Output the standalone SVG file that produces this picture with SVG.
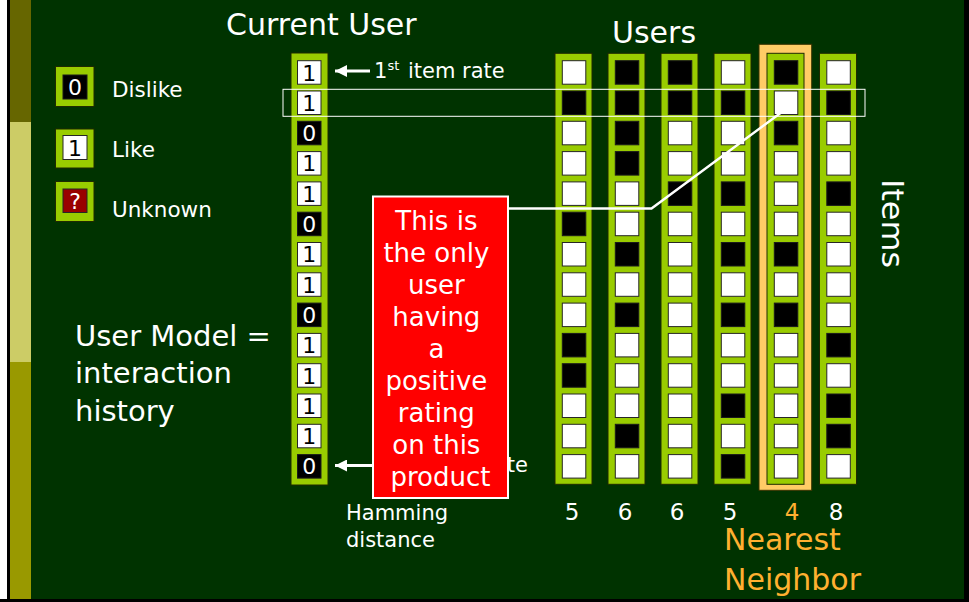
<svg xmlns="http://www.w3.org/2000/svg" width="969" height="602" viewBox="0 0 969 602">
<style>
.hand{font-family:"DejaVu Sans","Liberation Sans",sans-serif;fill:#ffffff}
.col{fill:#99CC00;stroke:#1f2a00;stroke-width:1}
.w{fill:#ffffff;stroke:#262626;stroke-width:1}
.b{fill:#000000;stroke:#1a1a1a;stroke-width:1}
.dig{font-family:"DejaVu Sans","Liberation Sans",sans-serif;font-size:22px;text-anchor:middle}
.dk{fill:#000000}
.lt{fill:#ffffff}
.cline{stroke:#ffffff;fill:none}
.callout{font-family:"DejaVu Sans","Liberation Sans",sans-serif;font-size:26px;fill:#ffffff;text-anchor:middle}
.num{font-family:"DejaVu Sans","Liberation Sans",sans-serif;font-size:23px;text-anchor:middle}
.orange{fill:#FFB030}
</style>
<defs>
<marker id="ah" markerUnits="userSpaceOnUse" markerWidth="14" markerHeight="12" refX="12" refY="6" orient="auto">
<path d="M0,0 L12,6 L0,12 z" fill="#ffffff"/>
</marker>
</defs>

<!-- background & frame -->
<rect x="0" y="0" width="969" height="602" fill="#003300"/>
<rect x="0" y="0" width="7" height="602" fill="#ffffff"/>
<rect x="7" y="0" width="3" height="602" fill="#000000"/>
<rect x="10" y="0" width="21" height="122" fill="#666600"/>
<rect x="10" y="122" width="21" height="240" fill="#CCCC66"/>
<rect x="10" y="362" width="21" height="240" fill="#999900"/>
<rect x="964" y="0" width="5" height="602" fill="#000000"/>
<rect x="0" y="599" width="969" height="3" fill="#000000"/>

<!-- titles -->
<g id="titles">
<text class="hand" x="226" y="35" font-size="30">Current User</text>
<text class="hand" x="612" y="42.5" font-size="30">Users</text>
<text class="hand" transform="translate(882,179) rotate(90)" font-size="31" textLength="89" lengthAdjust="spacingAndGlyphs">Items</text>
<text class="hand" font-size="29"><tspan x="75" y="346">User Model =</tspan><tspan x="75" y="383">interaction</tspan><tspan x="75" y="421">history</tspan></text>
<text class="hand" font-size="21"><tspan x="346" y="520">Hamming</tspan><tspan x="346" y="547">distance</tspan></text>
</g>

<!-- legend -->
<g id="legend-dislike">
<rect class="col" x="55.5" y="66.5" width="38.5" height="40"/>
<rect class="b" x="63" y="75" width="24" height="24"/>
<text class="dig lt" x="75" y="95">0</text>
<text class="hand" x="112" y="96.5" font-size="21.5">Dislike</text>
</g>
<g id="legend-like">
<rect class="col" x="55.5" y="129" width="38.5" height="39"/>
<rect class="w" x="63" y="135.5" width="24" height="24"/>
<text class="dig dk" x="75" y="155.5">1</text>
<text class="hand" x="112" y="156.5" font-size="21.5">Like</text>
</g>
<g id="legend-unknown">
<rect class="col" x="55.5" y="181.5" width="38.5" height="40"/>
<rect x="63" y="189" width="24" height="23.5" fill="#990000" stroke="#262626" stroke-width="1"/>
<text class="dig lt" x="75" y="208.5" font-size="20">?</text>
<text class="hand" x="112" y="216.5" font-size="21.5">Unknown</text>
</g>

<!-- current user -->
<g id="current-user">
<rect class="col" x="291" y="53" width="37" height="432"/>
<rect class="w" x="297.5" y="60.7" width="23.5" height="23.5"/><text class="dig dk" x="309.2" y="80.5">1</text>
<rect class="w" x="297.5" y="91" width="23.5" height="23.5"/><text class="dig dk" x="309.2" y="110.8">1</text>
<rect class="b" x="297.5" y="121.3" width="23.5" height="23.5"/><text class="dig lt" x="309.2" y="141.1">0</text>
<rect class="w" x="297.5" y="151.6" width="23.5" height="23.5"/><text class="dig dk" x="309.2" y="171.4">1</text>
<rect class="w" x="297.5" y="181.9" width="23.5" height="23.5"/><text class="dig dk" x="309.2" y="201.7">1</text>
<rect class="b" x="297.5" y="212.2" width="23.5" height="23.5"/><text class="dig lt" x="309.2" y="232">0</text>
<rect class="w" x="297.5" y="242.5" width="23.5" height="23.5"/><text class="dig dk" x="309.2" y="262.3">1</text>
<rect class="w" x="297.5" y="272.8" width="23.5" height="23.5"/><text class="dig dk" x="309.2" y="292.6">1</text>
<rect class="b" x="297.5" y="303.1" width="23.5" height="23.5"/><text class="dig lt" x="309.2" y="322.9">0</text>
<rect class="w" x="297.5" y="333.4" width="23.5" height="23.5"/><text class="dig dk" x="309.2" y="353.2">1</text>
<rect class="w" x="297.5" y="363.7" width="23.5" height="23.5"/><text class="dig dk" x="309.2" y="383.5">1</text>
<rect class="w" x="297.5" y="394" width="23.5" height="23.5"/><text class="dig dk" x="309.2" y="413.8">1</text>
<rect class="w" x="297.5" y="424.3" width="23.5" height="23.5"/><text class="dig dk" x="309.2" y="444.1">1</text>
<rect class="b" x="297.5" y="454.6" width="23.5" height="23.5"/><text class="dig lt" x="309.2" y="474.4">0</text>
<text class="hand" x="374" y="78" font-size="21">1<tspan font-size="13" dy="-8">st</tspan><tspan x="408" dy="8">item rate</tspan></text>
</g>

<!-- users -->
<g id="user1">
<rect class="col" x="555" y="53.3" width="37" height="431"/>
<rect class="w" x="562.3" y="60.7" width="23.5" height="23.5"/>
<rect class="b" x="562.3" y="91" width="23.5" height="23.5"/>
<rect class="w" x="562.3" y="121.3" width="23.5" height="23.5"/>
<rect class="w" x="562.3" y="151.6" width="23.5" height="23.5"/>
<rect class="w" x="562.3" y="181.9" width="23.5" height="23.5"/>
<rect class="b" x="562.3" y="212.2" width="23.5" height="23.5"/>
<rect class="w" x="562.3" y="242.5" width="23.5" height="23.5"/>
<rect class="w" x="562.3" y="272.8" width="23.5" height="23.5"/>
<rect class="w" x="562.3" y="303.1" width="23.5" height="23.5"/>
<rect class="b" x="562.3" y="333.4" width="23.5" height="23.5"/>
<rect class="b" x="562.3" y="363.7" width="23.5" height="23.5"/>
<rect class="w" x="562.3" y="394" width="23.5" height="23.5"/>
<rect class="w" x="562.3" y="424.3" width="23.5" height="23.5"/>
<rect class="w" x="562.3" y="454.6" width="23.5" height="23.5"/>
<text class="num lt" x="572" y="519.5">5</text>
</g>
<g id="user2">
<rect class="col" x="608" y="53.3" width="37" height="431"/>
<rect class="b" x="615.3" y="60.7" width="23.5" height="23.5"/>
<rect class="b" x="615.3" y="91" width="23.5" height="23.5"/>
<rect class="b" x="615.3" y="121.3" width="23.5" height="23.5"/>
<rect class="b" x="615.3" y="151.6" width="23.5" height="23.5"/>
<rect class="w" x="615.3" y="181.9" width="23.5" height="23.5"/>
<rect class="w" x="615.3" y="212.2" width="23.5" height="23.5"/>
<rect class="b" x="615.3" y="242.5" width="23.5" height="23.5"/>
<rect class="w" x="615.3" y="272.8" width="23.5" height="23.5"/>
<rect class="b" x="615.3" y="303.1" width="23.5" height="23.5"/>
<rect class="w" x="615.3" y="333.4" width="23.5" height="23.5"/>
<rect class="w" x="615.3" y="363.7" width="23.5" height="23.5"/>
<rect class="w" x="615.3" y="394" width="23.5" height="23.5"/>
<rect class="b" x="615.3" y="424.3" width="23.5" height="23.5"/>
<rect class="w" x="615.3" y="454.6" width="23.5" height="23.5"/>
<text class="num lt" x="625" y="519.5">6</text>
</g>
<g id="user3">
<rect class="col" x="661" y="53.3" width="37" height="431"/>
<rect class="b" x="668.3" y="60.7" width="23.5" height="23.5"/>
<rect class="b" x="668.3" y="91" width="23.5" height="23.5"/>
<rect class="w" x="668.3" y="121.3" width="23.5" height="23.5"/>
<rect class="w" x="668.3" y="151.6" width="23.5" height="23.5"/>
<rect class="b" x="668.3" y="181.9" width="23.5" height="23.5"/>
<rect class="w" x="668.3" y="212.2" width="23.5" height="23.5"/>
<rect class="w" x="668.3" y="242.5" width="23.5" height="23.5"/>
<rect class="w" x="668.3" y="272.8" width="23.5" height="23.5"/>
<rect class="w" x="668.3" y="303.1" width="23.5" height="23.5"/>
<rect class="w" x="668.3" y="333.4" width="23.5" height="23.5"/>
<rect class="w" x="668.3" y="363.7" width="23.5" height="23.5"/>
<rect class="w" x="668.3" y="394" width="23.5" height="23.5"/>
<rect class="w" x="668.3" y="424.3" width="23.5" height="23.5"/>
<rect class="w" x="668.3" y="454.6" width="23.5" height="23.5"/>
<text class="num lt" x="677" y="519.5">6</text>
</g>
<g id="user4">
<rect class="col" x="714" y="53.3" width="37" height="431"/>
<rect class="w" x="721.3" y="60.7" width="23.5" height="23.5"/>
<rect class="b" x="721.3" y="91" width="23.5" height="23.5"/>
<rect class="w" x="721.3" y="121.3" width="23.5" height="23.5"/>
<rect class="w" x="721.3" y="151.6" width="23.5" height="23.5"/>
<rect class="b" x="721.3" y="181.9" width="23.5" height="23.5"/>
<rect class="w" x="721.3" y="212.2" width="23.5" height="23.5"/>
<rect class="b" x="721.3" y="242.5" width="23.5" height="23.5"/>
<rect class="w" x="721.3" y="272.8" width="23.5" height="23.5"/>
<rect class="b" x="721.3" y="303.1" width="23.5" height="23.5"/>
<rect class="w" x="721.3" y="333.4" width="23.5" height="23.5"/>
<rect class="w" x="721.3" y="363.7" width="23.5" height="23.5"/>
<rect class="b" x="721.3" y="394" width="23.5" height="23.5"/>
<rect class="w" x="721.3" y="424.3" width="23.5" height="23.5"/>
<rect class="b" x="721.3" y="454.6" width="23.5" height="23.5"/>
<text class="num lt" x="730" y="519.5">5</text>
</g>
<g id="user5">
<rect x="759" y="44.3" width="52.7" height="446" fill="#FFCC66" stroke="#3a3300" stroke-width="1"/>
<rect class="col" x="767" y="53.3" width="37" height="431"/>
<rect class="b" x="774.3" y="60.7" width="23.5" height="23.5"/>
<rect class="w" x="774.3" y="91" width="23.5" height="23.5"/>
<rect class="b" x="774.3" y="121.3" width="23.5" height="23.5"/>
<rect class="w" x="774.3" y="151.6" width="23.5" height="23.5"/>
<rect class="w" x="774.3" y="181.9" width="23.5" height="23.5"/>
<rect class="w" x="774.3" y="212.2" width="23.5" height="23.5"/>
<rect class="b" x="774.3" y="242.5" width="23.5" height="23.5"/>
<rect class="w" x="774.3" y="272.8" width="23.5" height="23.5"/>
<rect class="b" x="774.3" y="303.1" width="23.5" height="23.5"/>
<rect class="w" x="774.3" y="333.4" width="23.5" height="23.5"/>
<rect class="w" x="774.3" y="363.7" width="23.5" height="23.5"/>
<rect class="w" x="774.3" y="394" width="23.5" height="23.5"/>
<rect class="w" x="774.3" y="424.3" width="23.5" height="23.5"/>
<rect class="w" x="774.3" y="454.6" width="23.5" height="23.5"/>
<text class="num orange" x="792" y="519.5">4</text>
<text class="hand orange" font-size="30"><tspan x="724" y="550">Nearest</tspan><tspan x="724" y="590">Neighbor</tspan></text>
</g>
<g id="user6">
<rect class="col" x="819.5" y="53.3" width="37" height="431"/>
<rect class="w" x="826.8" y="60.7" width="23.5" height="23.5"/>
<rect class="b" x="826.8" y="91" width="23.5" height="23.5"/>
<rect class="w" x="826.8" y="121.3" width="23.5" height="23.5"/>
<rect class="w" x="826.8" y="151.6" width="23.5" height="23.5"/>
<rect class="b" x="826.8" y="181.9" width="23.5" height="23.5"/>
<rect class="w" x="826.8" y="212.2" width="23.5" height="23.5"/>
<rect class="w" x="826.8" y="242.5" width="23.5" height="23.5"/>
<rect class="w" x="826.8" y="272.8" width="23.5" height="23.5"/>
<rect class="w" x="826.8" y="303.1" width="23.5" height="23.5"/>
<rect class="b" x="826.8" y="333.4" width="23.5" height="23.5"/>
<rect class="w" x="826.8" y="363.7" width="23.5" height="23.5"/>
<rect class="b" x="826.8" y="394" width="23.5" height="23.5"/>
<rect class="b" x="826.8" y="424.3" width="23.5" height="23.5"/>
<rect class="w" x="826.8" y="454.6" width="23.5" height="23.5"/>
<text class="num lt" x="836" y="519.5">8</text>
</g>

<!-- highlight row -->
<rect id="row-highlight" x="283" y="89.3" width="582" height="27" fill="none" stroke="#ffffff" stroke-width="1"/>

<!-- connectors -->
<g id="connectors">
<line class="cline" x1="370" y1="71" x2="335" y2="71" stroke-width="3" marker-end="url(#ah)"/>
<line class="cline" x1="380" y1="465.5" x2="335" y2="465.5" stroke-width="3" marker-end="url(#ah)"/>
<polyline class="cline" points="508,208.5 651.5,208.5 780.5,113" stroke-width="2.5"/>
</g>

<text class="hand" x="528" y="472" font-size="21" text-anchor="end">te</text>

<!-- callout -->
<g id="callout">
<rect x="373" y="196.5" width="135" height="301.5" fill="#FF0000" stroke="#ffffff" stroke-width="2"/>
<text class="callout">
<tspan x="440.5" y="230">This is</tspan>
<tspan x="440.5" y="262">the only</tspan>
<tspan x="440.5" y="294">user</tspan>
<tspan x="440.5" y="326">having</tspan>
<tspan x="440.5" y="358">a</tspan>
<tspan x="440.5" y="390">positive</tspan>
<tspan x="440.5" y="422">rating</tspan>
<tspan x="440.5" y="454">on this</tspan>
<tspan x="440.5" y="486">product</tspan>
</text>
</g>
</svg>
